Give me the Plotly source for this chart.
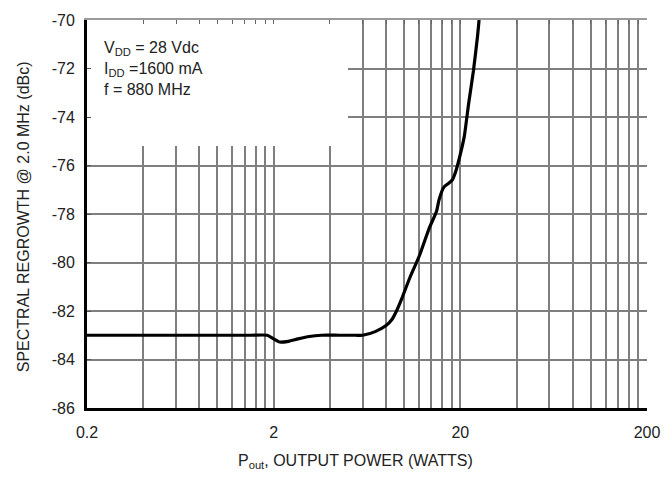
import plotly.graph_objects as go

# Curve data: output power (W) vs spectral regrowth (dBc)
pout_w = [0.2, 0.5, 1.0, 1.5, 1.85, 2.0, 2.15, 2.4, 2.7, 3.1, 3.6, 4.5, 5.5, 6.0, 7.0, 8.0,
          8.6, 9.1, 9.7, 10.7, 12.1, 13.6, 14.9, 15.4, 16.3, 17.2, 18.1, 18.7, 19.3,
          20.2, 21.0, 22.2, 23.5, 24.7, 25.2]
regrowth_dbc = [-83.0, -83.0, -83.0, -83.0, -83.0, -83.15, -83.28, -83.25, -83.15, -83.05, -83.0,
                -83.0, -83.0, -83.0, -82.85, -82.6, -82.35, -82.0, -81.5, -80.65, -79.7, -78.6,
                -77.9, -77.4, -76.9, -76.75, -76.6, -76.35, -76.0, -75.4, -74.8, -73.4, -72.1,
                -70.7, -70.0]

# Axis grid / tick definitions
x_major_vals = [0.2, 2, 20, 200]
x_major_text = ["0.2", "2", "20", "200"]
x_minor_vals = [0.4, 0.6, 0.8, 1.0, 1.2, 1.4, 1.6, 1.8,
                4, 6, 8, 10, 12, 14, 16, 18,
                40, 60, 80, 100, 120, 140, 160, 180]
y_tick_vals = [-86, -84, -82, -80, -78, -76, -74, -72, -70]
y_tick_text = ["-86", "-84", "-82", "-80", "-78", "-76", "-74", "-72", "-70"]

x_title = "P<sub>out</sub>, OUTPUT POWER (WATTS)"
y_title = "SPECTRAL REGROWTH @ 2.0 MHz (dBc)"
cond_text = "V<sub>DD</sub> = 28 Vdc<br>I<sub>DD</sub> =1600 mA<br>f = 880 MHz"

FONT = "Liberation Sans, Arial, sans-serif"
GRID = "#7f7f7f"

fig = go.Figure()
fig.add_trace(go.Scatter(x=pout_w, y=regrowth_dbc, mode="lines",
                         line=dict(color="black", width=3.2, shape="spline", smoothing=0.6),
                         showlegend=False, hoverinfo="skip"))
# invisible trace to anchor the top (frame) axis
fig.add_trace(go.Scatter(x=[0.2, 200], y=[-86, -70], xaxis="x2", mode="none",
                         showlegend=False, hoverinfo="skip"))

fig.update_layout(
    width=672, height=480,
    margin=dict(l=87, r=25, t=16, b=72),
    paper_bgcolor="white", plot_bgcolor="white",
    font=dict(family=FONT, size=16, color="#222"),
    xaxis=dict(type="log", range=[-0.69897, 2.30103],
               tickmode="array", tickvals=x_major_vals, ticktext=x_major_text,
               showgrid=True, gridcolor=GRID, gridwidth=1.6,
               minor=dict(tickmode="array", tickvals=x_minor_vals, showgrid=True,
                          gridcolor=GRID, gridwidth=1.6, ticks=""),
               showline=True, linecolor="black", linewidth=3,
               ticks="", ticklabelstandoff=8, zeroline=False),
    xaxis2=dict(type="log", range=[-0.69897, 2.30103], overlaying="x", side="top",
                tickmode="array", tickvals=x_major_vals + x_minor_vals, showticklabels=False,
                showgrid=False, showline=True, linecolor="#9a9a9a", linewidth=1.6,
                ticks="inside", ticklen=4, tickcolor="#666", tickwidth=1.2, zeroline=False),
    yaxis=dict(range=[-86, -70], tickmode="array", tickvals=y_tick_vals, ticktext=y_tick_text,
               showgrid=True, gridcolor=GRID, gridwidth=1.6,
               showline=True, linecolor="black", linewidth=3,
               ticks="inside", ticklen=4, tickcolor="#555", tickwidth=1.2,
               ticklabelstandoff=6, zeroline=False),
    shapes=[dict(type="rect", xref="x", yref="y", x0=0.2, x1=5.0, y0=-75.2, y1=-70,
                 fillcolor="white", line=dict(width=0), layer="between")],
    annotations=[
        dict(text=cond_text, xref="paper", yref="paper", x=0.027, y=0.955,
             xanchor="left", yanchor="top", align="left", showarrow=False,
             font=dict(family=FONT, size=16, color="#222")),
        dict(text=x_title, xref="paper", yref="paper", x=0.479, y=-0.138,
             xanchor="center", yanchor="middle", showarrow=False,
             font=dict(family=FONT, size=16, color="#222")),
        dict(text=y_title, xref="paper", yref="paper", x=-0.114, y=0.492,
             xanchor="center", yanchor="middle", textangle=-90, showarrow=False,
             font=dict(family=FONT, size=16, color="#222")),
    ],
)

fig.write_html("out.html", config={"displayModeBar": False},
               post_script="document.body.style.margin='0px';")
